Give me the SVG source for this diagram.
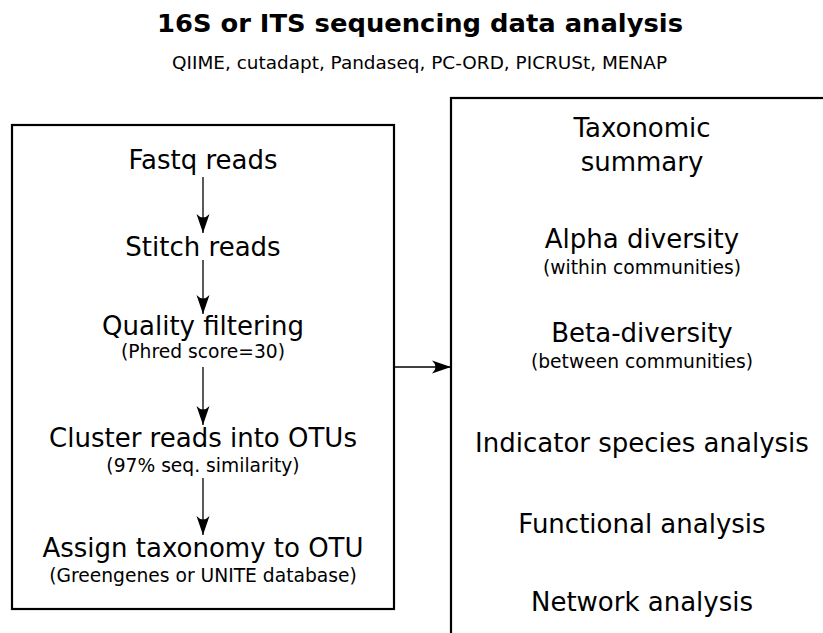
<svg xmlns="http://www.w3.org/2000/svg" width="823" height="633" viewBox="0 0 823 633">
<defs>
<style>
text{font-family:"DejaVu Sans","Noto Sans",sans-serif;fill:#000;text-anchor:middle}
.t{font-size:25px;font-weight:bold}
.s{font-size:18.5px}
.m{font-size:26px}
.n{font-size:18.7px}
.box{fill:none;stroke:#000;stroke-width:2.2}
.c{fill:none;stroke:#000;stroke-width:1.3}
</style>
<marker id="ah" markerUnits="userSpaceOnUse" markerWidth="24" markerHeight="16" viewBox="-20 -8 22 16" refX="0" refY="0" orient="auto">
<path d="M0,0 L-19,-6.5 Q-12,0 -19,6.5 Z" fill="#000"/>
</marker>
</defs>
<rect width="823" height="633" fill="#fff"/>
<g id="title">
<text class="t" x="420" y="32.3" textLength="526" lengthAdjust="spacingAndGlyphs">16S or ITS sequencing data analysis</text>
<text class="s" x="419.5" y="69" textLength="495" lengthAdjust="spacingAndGlyphs">QIIME, cutadapt, Pandaseq, PC-ORD, PICRUSt, MENAP</text>
</g>
<g id="pipeline">
<rect class="box" x="12" y="125" width="382" height="484"/>
</g>
<g id="fastq"><text class="m" x="203" y="169">Fastq reads</text></g>
<g id="stitch"><text class="m" x="203" y="256">Stitch reads</text></g>
<g id="quality"><text class="m" x="203" y="335">Quality filtering</text><text class="n" x="203" y="358">(Phred score=30)</text></g>
<g id="cluster"><text class="m" x="203" y="447">Cluster reads into OTUs</text><text class="n" x="203" y="472">(97% seq. similarity)</text></g>
<g id="assign"><text class="m" x="203" y="557">Assign taxonomy to OTU</text><text class="n" x="203" y="582">(Greengenes or UNITE database)</text></g>
<g id="analysis">
<rect class="box" x="451" y="98" width="400" height="560"/>
</g>
<g id="taxsum"><text class="m" x="642" y="137">Taxonomic</text><text class="m" x="642" y="171">summary</text></g>
<g id="alpha"><text class="m" x="642" y="248">Alpha diversity</text><text class="n" x="642" y="274">(within communities)</text></g>
<g id="beta"><text class="m" x="642" y="342">Beta-diversity</text><text class="n" x="642" y="368">(between communities)</text></g>
<g id="indicator"><text class="m" x="642" y="452">Indicator species analysis</text></g>
<g id="functional"><text class="m" x="642" y="533">Functional analysis</text></g>
<g id="network"><text class="m" x="642" y="611">Network analysis</text></g>
<g id="connectors">
<line class="c" x1="203" y1="177" x2="203" y2="233" marker-end="url(#ah)"/>
<line class="c" x1="203" y1="260" x2="203" y2="314" marker-end="url(#ah)"/>
<line class="c" x1="203" y1="367" x2="203" y2="425" marker-end="url(#ah)"/>
<line class="c" x1="203" y1="478" x2="203" y2="535" marker-end="url(#ah)"/>
<line class="c" x1="394" y1="367" x2="451" y2="367" marker-end="url(#ah)"/>
</g>
</svg>
